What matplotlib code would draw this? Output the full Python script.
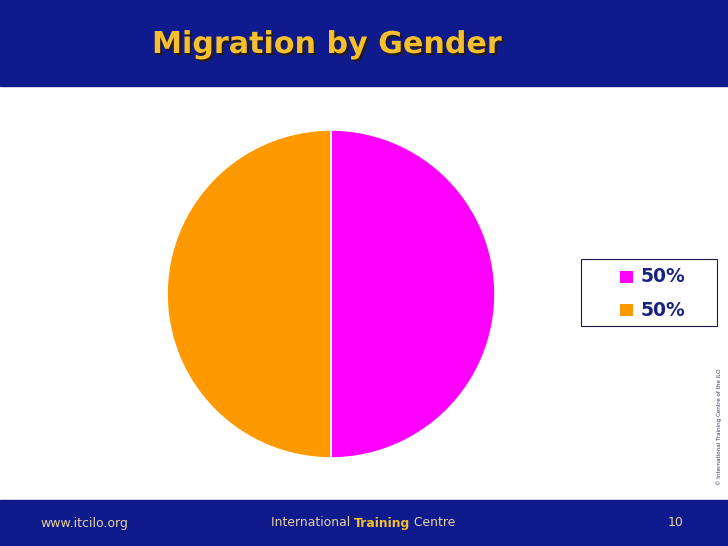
import matplotlib
matplotlib.use("Agg")
import matplotlib.pyplot as plt
from matplotlib.patches import Rectangle
import matplotlib.patheffects as pe

labels = ["50%", "50%"]
values = [50, 50]
colors = ["#FF00FF", "#FF9900"]

W, H = 728, 546
fig = plt.figure(figsize=(W/100, H/100), dpi=100)
fig.patch.set_facecolor("white")

navy = "#0F1A8C"
fig.add_artist(Rectangle((0, 1-86/H), 1, 86/H, transform=fig.transFigure, color=navy, zorder=0))
fig.add_artist(Rectangle((0, 0), 1, 46/H, transform=fig.transFigure, color=navy, zorder=0))

fig.text(152/W, 1-53/H, "Migration by Gender", fontsize=21.7, fontweight="bold",
         color="#F5C030", family="DejaVu Sans", va="baseline", ha="left",
         path_effects=[pe.SimplePatchShadow(offset=(1.5, -1.5), shadow_rgbFace="#2a1a00", alpha=0.9),
                       pe.Normal()])

foot_col = "#E6D3A0"
fig.text(40/W, 23/H, "www.itcilo.org", fontsize=9, color=foot_col, family="DejaVu Sans", va="center")
fig.text(668/W, 23/H, "10", fontsize=9, color=foot_col, family="DejaVu Sans", va="center")

fig.canvas.draw()
renderer = fig.canvas.get_renderer()
x = 271
for txt, col, wt in [("International ", foot_col, "normal"), ("Training", "#F5C030", "bold"), (" Centre", foot_col, "normal")]:
    t = fig.text(x/W, 23/H, txt, fontsize=8.9, color=col, fontweight=wt, family="DejaVu Sans", va="center")
    bb = t.get_window_extent(renderer)
    x += bb.width

fig.text(719/W, 1-427/H, "© International Training Centre of the ILO", fontsize=4.1, color="#3a3a5a",
         rotation=90, ha="center", va="center", family="DejaVu Sans")

r = 164
cx, cy = 331, 294
ax = fig.add_axes([(cx-r)/W, 1-(cy+r)/H, 2*r/W, 2*r/H])
ax.pie(values, colors=colors, startangle=90, counterclock=False,
       wedgeprops=dict(edgecolor="white", linewidth=1.2))
ax.set_aspect("equal")
ax.set_xlim(-1.0, 1.0)
ax.set_ylim(-1.0, 1.0)

lx0, ly0, lx1, ly1 = 581, 259, 717, 326
fig.add_artist(Rectangle((lx0/W, 1-ly1/H), (lx1-lx0)/W, (ly1-ly0)/H, transform=fig.transFigure,
                         facecolor="white", edgecolor="#1a1a4a", linewidth=0.8, zorder=3))
for i, (lab, c) in enumerate(zip(labels, colors)):
    yy = 277 + i*33
    fig.add_artist(Rectangle((620/W, 1-(yy+6)/H), 13/W, 12/H, transform=fig.transFigure,
                             facecolor=c, edgecolor="none", zorder=4))
    fig.text(641/W, 1-yy/H, lab, fontsize=13.5, fontweight="bold", color="#1A237E",
             family="DejaVu Sans", va="center", ha="left", zorder=5)

fig.savefig("out.png", dpi=100)
